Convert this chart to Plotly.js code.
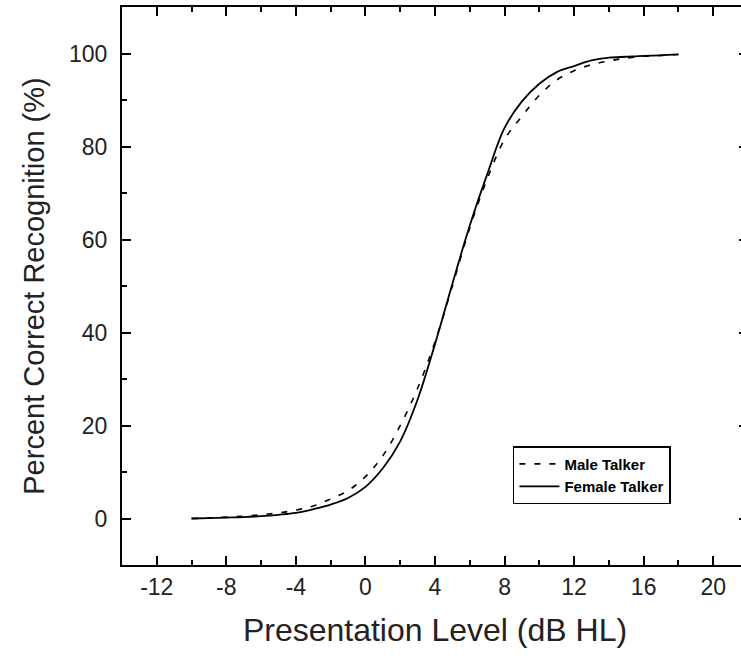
<!DOCTYPE html>
<html>
<head>
<meta charset="utf-8">
<script src="https://cdn.plot.ly/plotly-3.0.1.min.js"></script>
<style>
html,body{margin:0;padding:0;background:#fff;overflow:hidden;width:741px;height:658px;}
#chart{width:760px;height:658px;}
</style>
</head>
<body>
<div id="chart"></div>
<script>
// Presentation level (dB HL)
const levels = [-10,-9,-8,-7,-6,-5,-4,-3,-2,-1,0,1,2,3,4,5,6,7,8,9,10,11,12,13,14,15,16,17,18];
// Percent correct recognition (%)
const maleTalker = [0,0.1,0.3,0.5,0.8,1.2,1.8,2.7,4.2,6.0,9.0,13.5,20.0,28.0,38.0,50.0,62.5,73.0,81.5,86.5,91.0,94.3,96.3,97.6,98.4,99.0,99.4,99.6,99.8];
const femaleTalker = [0,0.1,0.2,0.3,0.5,0.8,1.2,2.0,3.0,4.4,6.8,10.8,16.6,25.6,37.5,50.5,63.0,74.0,84.0,89.7,93.5,96.0,97.3,98.5,99.1,99.3,99.5,99.6,99.8];
const seriesNames = ["Male Talker", "Female Talker"];
const xTickVals = [-12,-8,-4,0,4,8,12,16,20];
const yTickVals = [0,20,40,60,80,100];

const FONT = "Liberation Sans, Arial, Helvetica, sans-serif";

const traces = [
  {x: levels, y: maleTalker, name: seriesNames[0], type: "scatter", mode: "lines",
   line: {color: "#000", width: 1.6, dash: "6px,9px", shape: "spline"}},
  {x: levels, y: femaleTalker, name: seriesNames[1], type: "scatter", mode: "lines",
   line: {color: "#000", width: 1.8, shape: "spline"}}
];

const axisCommon = {
  showline: true, linecolor: "#000", linewidth: 2, mirror: "ticks",
  ticks: "inside", ticklen: 9, tickwidth: 2, tickcolor: "#000",
  showgrid: false, zeroline: false,
  tickfont: {family: FONT, size: 23, color: "#222"}
};

const layout = {
  width: 760, height: 658,
  margin: {l: 122, r: 12, t: 7, b: 93},
  paper_bgcolor: "#fff", plot_bgcolor: "#fff",
  showlegend: true,
  legend: {x: 0.6245, y: 0.213, xanchor: "left", yanchor: "top",
    bordercolor: "#000", borderwidth: 1.5, bgcolor: "#fff",
    font: {family: FONT, size: 15, color: "#000", weight: "bold"},
    tracegroupgap: 0, itemwidth: 40},
  xaxis: Object.assign({}, axisCommon, {
    range: [-14, 22], tickvals: xTickVals, ticktext: xTickVals.map(String),
    minor: {dtick: 2, tick0: 0, ticks: "inside", ticklen: 5, tickwidth: 2, tickcolor: "#000", showgrid: false},
    title: {text: "Presentation Level (dB HL)", font: {family: FONT, size: 32, color: "#222"}, standoff: 20}
  }),
  yaxis: Object.assign({}, axisCommon, {
    range: [-10, 110], tickvals: yTickVals, ticktext: yTickVals.map(String),
    ticklabelstandoff: 8,
    minor: {dtick: 10, tick0: 0, ticks: "inside", ticklen: 5, tickwidth: 2, tickcolor: "#000", showgrid: false},
    title: {text: "Percent Correct Recognition (%)", font: {family: FONT, size: 29, color: "#222"}, standoff: 16}
  })
};

Plotly.newPlot("chart", traces, layout, {displayModeBar: false, staticPlot: true});
</script>
</body>
</html>
